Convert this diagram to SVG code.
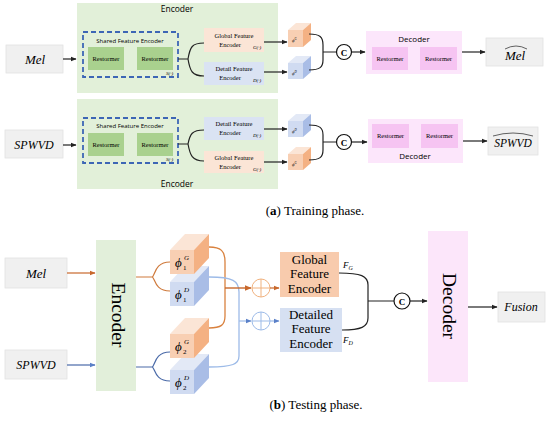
<svg xmlns="http://www.w3.org/2000/svg" width="550" height="422" viewBox="0 0 550 422">
<style>
.sans{font-family:"Open Sans","DejaVu Sans",sans-serif}
.serif{font-family:"Liberation Serif","Times New Roman",serif}
.it{font-style:italic}
.ln{fill:none;stroke:#222;stroke-width:1.2}
.inbox{fill:#f0f0f0;stroke:#e2e2e2;stroke-width:0.8}
.enc{fill:#e2f0d9}
.dash{fill:none;stroke:#3d66b5;stroke-width:1.8;stroke-dasharray:5,3}
.rg{fill:#a9d18e}
.gfe{fill:#fbe5d6}
.dfe{fill:#dae3f3}
.dec{fill:#fce6fb}
.rp{fill:#f6c4f2}
.t7{font-size:6.5px;text-anchor:middle}
.ot{fill:#fbe5d6}.of{fill:#f8cfb3}.or{fill:#f4b183}
.bt{fill:#e3e9f6}.bf{fill:#d0dbf1}.br{fill:#a9bde6}
.orl{fill:none;stroke:#d9823f;stroke-width:1.3}
.bll{fill:none;stroke:#9dbbe8;stroke-width:1.3}
</style>
<defs>
<marker id="ak" viewBox="0 0 10 10" refX="9" refY="5" markerWidth="5" markerHeight="5" orient="auto"><path d="M0,1 L10,5 L0,9 z" fill="#222"/></marker>
<marker id="ao" viewBox="0 0 10 10" refX="9" refY="5" markerWidth="5" markerHeight="5" orient="auto"><path d="M0,1 L10,5 L0,9 z" fill="#c8682c"/></marker>
<marker id="ab" viewBox="0 0 10 10" refX="9" refY="5" markerWidth="5" markerHeight="5" orient="auto"><path d="M0,1 L10,5 L0,9 z" fill="#5a80c8"/></marker>
</defs>

<!-- ===== (a) Training phase ===== -->
<g id="enc1"><rect class="enc" x="77" y="3" width="201" height="90"/><text class="sans" x="177" y="12" font-size="8.5" text-anchor="middle">Encoder</text></g>
<g id="enc2"><rect class="enc" x="77" y="99" width="201" height="90"/><text class="sans" x="177" y="187" font-size="8.5" text-anchor="middle">Encoder</text></g>

<g id="mel_in"><rect class="inbox" x="6" y="45" width="57" height="28"/><text class="serif it" x="35" y="64" font-size="13" text-anchor="middle">Mel</text></g>
<g id="spwvd_in"><rect class="inbox" x="5" y="130" width="58" height="28"/><text class="serif it" x="34" y="149" font-size="12" text-anchor="middle">SPWVD</text></g>

<g id="sfe1"><rect class="dash" x="83" y="32" width="95" height="45"/><text class="sans" x="130" y="43" font-size="6" text-anchor="middle">Shared Feature Encoder</text>
<rect class="rg" x="88" y="47" width="36" height="23"/><text class="serif t7" x="106" y="61">Restormer</text>
<rect class="rg" x="137" y="47" width="36" height="23"/><text class="serif t7" x="155" y="61">Restormer</text>
<text class="serif it" x="166" y="75" font-size="5">S(·)</text></g>
<g id="sfe2"><rect class="dash" x="83" y="118" width="95" height="45"/><text class="sans" x="130" y="128" font-size="6" text-anchor="middle">Shared Feature Encoder</text>
<rect class="rg" x="88" y="133" width="36" height="23"/><text class="serif t7" x="106" y="147">Restormer</text>
<rect class="rg" x="137" y="133" width="36" height="23"/><text class="serif t7" x="155" y="147">Restormer</text>
<text class="serif it" x="166" y="161" font-size="5">S(·)</text></g>

<g id="gfe1"><rect class="gfe" x="204" y="28" width="60" height="24"/><text class="serif t7" x="234" y="38">Global Feature</text><text class="serif t7" x="230" y="47">Encoder</text><text class="serif it" x="253" y="49" font-size="5">G(·)</text></g>
<g id="dfe1"><rect class="dfe" x="204" y="62" width="60" height="23"/><text class="serif t7" x="234" y="71">Detail Feature</text><text class="serif t7" x="230" y="80">Encoder</text><text class="serif it" x="253" y="82" font-size="5">D(·)</text></g>
<g id="dfe2"><rect class="dfe" x="204" y="117" width="60" height="23"/><text class="serif t7" x="234" y="126">Detail Feature</text><text class="serif t7" x="230" y="135">Encoder</text><text class="serif it" x="253" y="137" font-size="5">D(·)</text></g>
<g id="gfe2"><rect class="gfe" x="204" y="151" width="60" height="22"/><text class="serif t7" x="234" y="160">Global Feature</text><text class="serif t7" x="230" y="169">Encoder</text><text class="serif it" x="253" y="171" font-size="5">G(·)</text></g>

<g id="cubeA1"><path class="ot" d="M288,30 L296,23 L311,23 L303,30 z"/><rect class="of" x="288" y="30" width="15" height="17"/><path class="or" d="M303,30 L311,23 L311,40 L303,47 z"/><text class="serif it" x="292" y="42" font-size="5">ϕ<tspan dy="-2" font-size="3">G</tspan></text></g>
<g id="cubeA2"><path class="bt" d="M288,63 L296,56 L311,56 L303,63 z"/><rect class="bf" x="288" y="63" width="15" height="16"/><path class="br" d="M303,63 L311,56 L311,72 L303,79 z"/><text class="serif it" x="292" y="75" font-size="5">ϕ<tspan dy="-2" font-size="3">D</tspan></text></g>
<g id="cubeA3"><path class="bt" d="M288,121 L296,114 L311,114 L303,121 z"/><rect class="bf" x="288" y="121" width="15" height="16"/><path class="br" d="M303,121 L311,114 L311,130 L303,137 z"/><text class="serif it" x="292" y="133" font-size="5">ϕ<tspan dy="-2" font-size="3">D</tspan></text></g>
<g id="cubeA4"><path class="ot" d="M288,154 L296,147 L311,147 L303,154 z"/><rect class="of" x="288" y="154" width="15" height="16"/><path class="or" d="M303,154 L311,147 L311,163 L303,170 z"/><text class="serif it" x="292" y="166" font-size="5">ϕ<tspan dy="-2" font-size="3">G</tspan></text></g>

<g id="catA1"><circle cx="344" cy="52" r="7.5" fill="#fff" stroke="#111" stroke-width="1.2"/><text class="serif" x="344" y="55.5" font-size="9" font-weight="bold" text-anchor="middle">C</text></g>
<g id="catA2"><circle cx="344" cy="142" r="7.5" fill="#fff" stroke="#111" stroke-width="1.2"/><text class="serif" x="344" y="145.5" font-size="9" font-weight="bold" text-anchor="middle">C</text></g>

<g id="dec1"><rect class="dec" x="366" y="31" width="96" height="43"/><text class="sans" x="414" y="42" font-size="8" text-anchor="middle">Decoder</text>
<rect class="rp" x="372" y="47" width="36" height="23"/><text class="serif t7" x="390" y="61">Restormer</text>
<rect class="rp" x="420" y="47" width="37" height="23"/><text class="serif t7" x="438.5" y="61">Restormer</text></g>
<g id="dec2"><rect class="dec" x="368" y="119" width="95" height="44"/><text class="sans" x="415" y="159" font-size="8" text-anchor="middle">Decoder</text>
<rect class="rp" x="372" y="124" width="37" height="24"/><text class="serif t7" x="390.5" y="138">Restormer</text>
<rect class="rp" x="421" y="124" width="37" height="24"/><text class="serif t7" x="439.5" y="138">Restormer</text></g>

<g id="mel_out"><rect class="inbox" x="486" y="38" width="57" height="28"/><text class="serif it" x="515" y="60" font-size="13" text-anchor="middle">Mel</text><path d="M505,49 Q516,43 527,49" fill="none" stroke="#222" stroke-width="0.7"/></g>
<g id="spwvd_out"><rect class="inbox" x="488" y="127" width="50" height="28"/><text class="serif it" x="513" y="147" font-size="11.5" text-anchor="middle">SPWVD</text><path d="M493,136 Q513,130 533,136" fill="none" stroke="#222" stroke-width="0.7"/></g>

<g id="conn_a">
<line class="ln" x1="63" y1="59" x2="76" y2="59" marker-end="url(#ak)"/>
<line class="ln" x1="63" y1="145" x2="76" y2="145" marker-end="url(#ak)"/>
<path class="ln" d="M178,59 H188 M188,59 C190,47 192,43 204,43 M188,59 C190,71 192,76 204,76"/>
<path class="ln" d="M178,144 H188 M188,144 C190,134 192,130 204,130 M188,144 C190,155 192,161 204,161"/>
<line class="ln" x1="264" y1="42" x2="287" y2="42" marker-end="url(#ak)"/>
<line class="ln" x1="264" y1="72" x2="287" y2="72" marker-end="url(#ak)"/>
<line class="ln" x1="264" y1="129" x2="287" y2="129" marker-end="url(#ak)"/>
<line class="ln" x1="264" y1="162" x2="287" y2="162" marker-end="url(#ak)"/>
<path class="ln" d="M309,34 C320,34 323,37 323,45 V60 C323,67 320,70 309,70 M323,52 H336.5"/>
<path class="ln" d="M309,125 C320,125 323,128 323,135 V150 C323,157 320,160 309,160 M323,142 H336.5"/>
<line class="ln" x1="351.5" y1="52" x2="365" y2="52" marker-end="url(#ak)"/>
<line class="ln" x1="351.5" y1="142" x2="367" y2="142" marker-end="url(#ak)"/>
<line class="ln" x1="462" y1="52" x2="485" y2="52" marker-end="url(#ak)"/>
<line class="ln" x1="463" y1="141" x2="487" y2="141" marker-end="url(#ak)"/>
</g>

<text class="serif" x="315" y="215" font-size="13" text-anchor="middle">(<tspan font-weight="bold">a</tspan>) Training phase.</text>

<!-- ===== (b) Testing phase ===== -->
<g id="mel_b"><rect class="inbox" x="5" y="258" width="62" height="30"/><text class="serif it" x="36" y="278" font-size="13" text-anchor="middle">Mel</text></g>
<g id="spwvd_b"><rect class="inbox" x="5" y="350" width="62" height="29"/><text class="serif it" x="36" y="369" font-size="12" text-anchor="middle">SPWVD</text></g>
<g id="enc_b"><rect fill="#e2efda" x="96" y="240" width="40" height="151"/><text class="serif" transform="translate(112,315) rotate(90)" font-size="19.5" text-anchor="middle">Encoder</text></g>

<g id="phi1D"><path class="bt" d="M170,282 L185,266 L209,266 L194,282 z"/><rect class="bf" x="170" y="282" width="24" height="24"/><path class="br" d="M194,282 L209,266 L209,290 L194,306 z"/><text class="serif it" x="175" y="299" font-size="13">ϕ</text><text class="serif" x="183" y="302" font-size="7">1</text><text class="serif it" x="184" y="292" font-size="7">D</text></g>
<g id="phi1G"><path class="ot" d="M170,250 L185,234 L209,234 L194,250 z"/><rect class="of" x="170" y="250" width="24" height="24"/><path class="or" d="M194,250 L209,234 L209,258 L194,274 z"/><text class="serif it" x="175" y="267" font-size="13">ϕ</text><text class="serif" x="183" y="270" font-size="7">1</text><text class="serif it" x="184" y="260" font-size="7">G</text></g>
<g id="phi2D"><path class="bt" d="M170,370 L185,354 L209,354 L194,370 z"/><rect class="bf" x="170" y="370" width="24" height="24"/><path class="br" d="M194,370 L209,354 L209,378 L194,394 z"/><text class="serif it" x="175" y="387" font-size="13">ϕ</text><text class="serif" x="183" y="390" font-size="7">2</text><text class="serif it" x="184" y="380" font-size="7">D</text></g>
<g id="phi2G"><path class="ot" d="M170,334 L185,318 L209,318 L194,334 z"/><rect class="of" x="170" y="334" width="24" height="24"/><path class="or" d="M194,334 L209,318 L209,342 L194,358 z"/><text class="serif it" x="175" y="351" font-size="13">ϕ</text><text class="serif" x="183" y="354" font-size="7">2</text><text class="serif it" x="184" y="344" font-size="7">G</text></g>

<g id="plusO"><circle cx="261" cy="288" r="9" fill="none" stroke="#f0b27f" stroke-width="1"/><path d="M252,288 H270 M261,279 V297" stroke="#f0b27f" stroke-width="1"/></g>
<g id="plusB"><circle cx="261" cy="321" r="9" fill="none" stroke="#9dbbe8" stroke-width="1"/><path d="M252,321 H270 M261,312 V330" stroke="#9dbbe8" stroke-width="1"/></g>

<g id="gfe_b"><rect fill="#f8cbad" x="280" y="252" width="59" height="45"/><g class="serif" font-size="13" text-anchor="middle"><text x="309.5" y="264">Global</text><text x="309.5" y="278">Feature</text><text x="309.5" y="293">Encoder</text></g></g>
<g id="dfe_b"><rect fill="#d6e0f2" x="280" y="308" width="62" height="44"/><g class="serif" font-size="13" text-anchor="middle"><text x="311" y="319">Detailed</text><text x="311" y="333">Feature</text><text x="311" y="348">Encoder</text></g></g>
<text class="serif it" x="343" y="268" font-size="9">F<tspan font-size="6" dy="2">G</tspan></text>
<text class="serif it" x="343" y="343" font-size="9">F<tspan font-size="6" dy="2">D</tspan></text>

<g id="cat_b"><circle cx="402" cy="301" r="8" fill="#fff" stroke="#111" stroke-width="1.2"/><text class="serif" x="402" y="304.5" font-size="9" font-weight="bold" text-anchor="middle">C</text></g>
<g id="dec_b"><rect fill="#fce6fa" x="428" y="231" width="40" height="151"/><text class="serif" transform="translate(443,306) rotate(90)" font-size="19.5" text-anchor="middle">Decoder</text></g>
<g id="fusion"><rect class="inbox" x="498" y="292" width="47" height="30"/><text class="serif it" x="521" y="311" font-size="12" text-anchor="middle">Fusion</text></g>

<g id="conn_b">
<line x1="67" y1="273" x2="95" y2="273" stroke="#c8682c" stroke-width="1.2" marker-end="url(#ao)"/>
<line x1="67" y1="365" x2="95" y2="365" stroke="#4a6aa8" stroke-width="1.2" marker-end="url(#ab)"/>
<path fill="none" stroke="#cf7a3c" stroke-width="1.2" d="M136,277 H152 M152,277 C155,277 154,262 170,262 M152,277 C155,277 154,291 170,291"/>
<path fill="none" stroke="#4a6aa8" stroke-width="1.2" d="M136,367 H152 M152,367 C155,367 154,352 170,352 M152,367 C155,367 154,381 170,381"/>
<path class="orl" d="M209,247 C221,247 225,251 225,262 V316 C225,325 221,328 209,328"/>
<path class="bll" d="M209,277 C233,277 239,281 239,292 V356 C239,364 233,367 209,367"/>
<line x1="225" y1="288" x2="251" y2="288" stroke="#c8682c" stroke-width="1.4" marker-end="url(#ao)"/>
<line x1="239" y1="321" x2="251" y2="321" stroke="#9dbbe8" stroke-width="1.2" marker-end="url(#ab)"/>
<line x1="270" y1="288" x2="279" y2="288" stroke="#c8682c" stroke-width="1.2" marker-end="url(#ao)"/>
<line x1="270" y1="321" x2="279" y2="321" stroke="#9dbbe8" stroke-width="1.2" marker-end="url(#ab)"/>
<path class="ln" d="M339,273 C361,273 368,276 368,285 V318 C368,327 361,330 342,330 M368,301 H394"/>
<line class="ln" x1="410" y1="301" x2="427" y2="301" marker-end="url(#ak)"/>
<line class="ln" x1="468" y1="307" x2="497" y2="307" marker-end="url(#ak)"/>
</g>

<text class="serif" x="316" y="409" font-size="13" text-anchor="middle">(<tspan font-weight="bold">b</tspan>) Testing phase.</text>
</svg>
